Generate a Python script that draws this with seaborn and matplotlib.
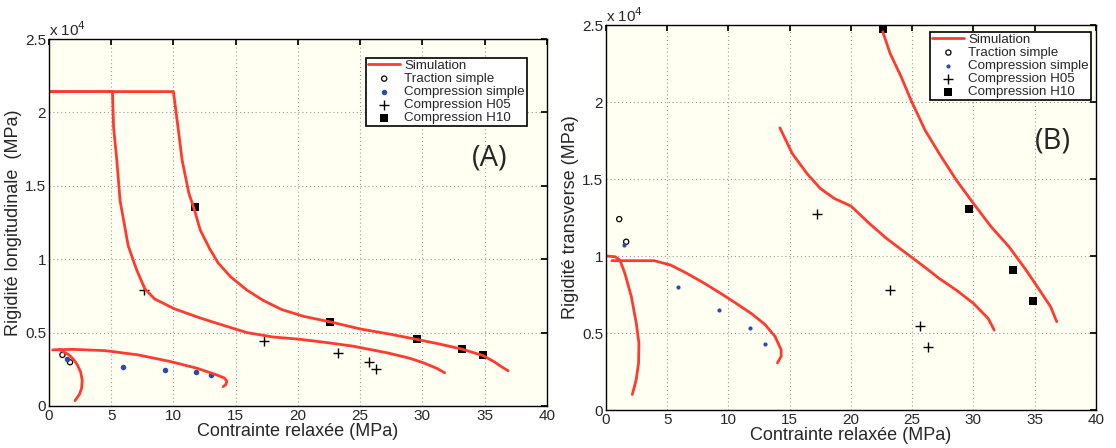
"""
Rigidité longitudinale (A) et transverse (B) vs contrainte relaxée.
"""

import matplotlib
matplotlib.use("Agg")
import matplotlib.pyplot as plt
import seaborn as sns
import numpy as np
import pandas as pd

RED = "#FF3B2F"
BLUE = "#2B4DA8"
BG = "#FFFFF2"

# ---------------- (A) longitudinale, valeurs en 1e4 MPa ----------------
a_sim_h10_x = [0.15, 10.0, 10.3, 10.7, 11.24, 11.71, 12.15, 12.94, 13.6, 14.6, 15.9, 17.2,
               18.7, 20.5, 22.6, 25.0, 27.5, 29.6, 31.5, 33.2, 34.9, 35.8, 36.5, 36.9]
a_sim_h10_y = [2.142, 2.142, 1.944, 1.674, 1.45, 1.33, 1.20, 1.067, 0.974, 0.88, 0.79, 0.72,
               0.657, 0.61, 0.573, 0.525, 0.488, 0.453, 0.42, 0.387, 0.343, 0.30, 0.26, 0.24]
a_sim_h05_x = [0.15, 5.1, 5.19, 5.45, 5.71, 6.37, 7.02, 7.69, 8.48, 10.05, 11.9, 13.05, 15.9,
               18.0, 20.1, 22.5, 24.4, 27.2, 29.0, 30.1, 31.2, 31.8]
a_sim_h05_y = [2.142, 2.142, 1.90, 1.675, 1.40, 1.09, 0.933, 0.80, 0.73, 0.663, 0.607, 0.575, 0.50,
               0.47, 0.455, 0.43, 0.408, 0.362, 0.325, 0.294, 0.255, 0.226]
a_sim_cs_x = [0.29, 1.88, 4.52, 7.17, 9.8, 11.9, 13.5, 14.1, 14.3, 14.2, 14.0]
a_sim_cs_y = [0.382, 0.386, 0.377, 0.348, 0.302, 0.257, 0.211, 0.19, 0.168, 0.145, 0.132]
a_sim_ts_x = [0.82, 1.61, 2.0, 2.28, 2.55, 2.67, 2.62, 2.45, 2.09]
a_sim_ts_y = [0.386, 0.348, 0.315, 0.280, 0.23, 0.175, 0.12, 0.08, 0.036]

a_ts_x = [1.08, 1.69]
a_ts_y = [0.348, 0.298]
a_cs_x = [1.48, 5.98, 9.29, 11.8, 13.04]
a_cs_y = [0.318, 0.264, 0.245, 0.23, 0.211]
a_h05_x = [7.66, 17.25, 23.2, 25.7, 26.3]
a_h05_y = [0.793, 0.446, 0.358, 0.299, 0.254]
a_h10_x = [11.7, 22.6, 29.6, 33.2, 34.9]
a_h10_y = [1.356, 0.573, 0.453, 0.387, 0.346]

# ---------------- (B) transverse ----------------
b_sim_h10_x = [22.6, 23.2, 24.1, 24.9, 26.05, 27.2, 28.6, 30.0, 31.45, 32.9, 34.3, 35.4, 36.3, 36.8]
b_sim_h10_y = [2.457, 2.316, 2.165, 2.013, 1.818, 1.667, 1.494, 1.342, 1.190, 1.061, 0.909, 0.779, 0.671, 0.574]
b_sim_h05_x = [14.2, 15.2, 16.4, 17.5, 18.65, 20.0, 21.5, 22.9, 24.35, 25.8, 27.2, 28.6, 30.0, 31.2, 31.7]
b_sim_h05_y = [1.833, 1.667, 1.537, 1.439, 1.374, 1.325, 1.212, 1.115, 1.028, 0.942, 0.855, 0.779, 0.693, 0.595, 0.519]
b_sim_cs_x = [0.48, 3.94, 5.27, 6.6, 7.93, 9.26, 10.6, 11.9, 13.0, 13.8, 14.3, 14.3, 14.0]
b_sim_cs_y = [0.970, 0.970, 0.942, 0.888, 0.828, 0.763, 0.694, 0.625, 0.554, 0.478, 0.392, 0.349, 0.306]
b_sim_ts_x = [0.08, 0.74, 1.14, 1.54, 2.07, 2.47, 2.69, 2.66, 2.47, 2.15]
b_sim_ts_y = [1.0, 0.996, 0.974, 0.888, 0.737, 0.565, 0.435, 0.306, 0.198, 0.101]

b_ts_x = [1.08, 1.65]
b_ts_y = [1.240, 1.093]
b_cs_x = [1.45, 5.92, 9.23, 11.73, 13.0]
b_cs_y = [1.069, 0.801, 0.647, 0.535, 0.426]
b_h05_x = [17.2, 23.15, 25.65, 26.3]
b_h05_y = [1.275, 0.781, 0.548, 0.407]
b_h10_x = [22.6, 29.6, 33.2, 34.85]
b_h10_y = [2.474, 1.307, 0.911, 0.708]

x_ticks = [0, 5, 10, 15, 20, 25, 30, 35, 40]
y_ticks = [0, 0.5, 1, 1.5, 2, 2.5]
y_tick_labels = ["0", "0.5", "1", "1.5", "2", "2.5"]

sns.set_theme(style="whitegrid")
plt.rcParams["font.family"] = ["Liberation Sans", "DejaVu Sans"]


def draw_panel(ax, sims, ts, cs, h05, h10, ylabel, tag, tag_xy, leg_anchor, dot_size):
    ax.set_facecolor(BG)
    for i, (sx, sy) in enumerate(sims):
        sns.lineplot(x=sx, y=sy, ax=ax, sort=False, estimator=None, color=RED,
                     linewidth=2, label="Simulation" if i == 0 else None)
    sns.scatterplot(x=ts[0], y=ts[1], ax=ax, marker="o", s=14, facecolor="none",
                    edgecolor="black", linewidth=0.9, label="Traction simple")
    sns.scatterplot(x=cs[0], y=cs[1], ax=ax, marker="o", s=dot_size, color=BLUE,
                    edgecolor=BLUE, linewidth=0, label="Compression simple")
    sns.scatterplot(x=h05[0], y=h05[1], ax=ax, marker="+", s=50, color="black",
                    linewidth=1, label="Compression H05")
    sns.scatterplot(x=h10[0], y=h10[1], ax=ax, marker="s", s=30, color="black",
                    edgecolor="black", linewidth=0, label="Compression H10")

    ax.set_xlim(0, 40)
    ax.set_ylim(0, 2.5)
    ax.set_xticks(x_ticks)
    ax.set_yticks(y_ticks)
    ax.set_yticklabels(y_tick_labels)
    ax.grid(True, color="#9a9a9a", linestyle=(0, (1, 2.5)), linewidth=0.8)
    ax.tick_params(direction="in", length=4, labelsize=11, pad=2,
                   top=True, right=True, color="black")
    for sp in ax.spines.values():
        sp.set_color("black")
        sp.set_linewidth(1)
    ax.set_xlabel("Contrainte relaxée (MPa)", fontsize=13, labelpad=0)
    ax.set_ylabel(ylabel, fontsize=13, labelpad=2)
    ax.text(0.0, 1.0, r"x 10$^4$", transform=ax.transAxes, ha="left",
            va="bottom", fontsize=11)
    ax.text(tag_xy[0], tag_xy[1], tag, fontsize=21, ha="center", va="center",
            family=["Open Sans", "DejaVu Sans"])

    leg = ax.legend(loc="upper right", bbox_to_anchor=leg_anchor, fontsize=9.6,
                    frameon=True, fancybox=False, framealpha=1,
                    edgecolor="black", handlelength=2.4, handletextpad=0.3,
                    borderpad=0.15, labelspacing=0.05, borderaxespad=0)
    leg.get_frame().set_linewidth(1.2)
    leg.get_frame().set_facecolor("white")


fig = plt.figure(figsize=(11.16, 4.48), dpi=100)
ax1 = fig.add_axes([0.0439, 0.0938, 0.446, 0.819])
ax2 = fig.add_axes([0.543, 0.0848, 0.439, 0.859])

draw_panel(
    ax1,
    [(a_sim_h10_x, a_sim_h10_y), (a_sim_h05_x, a_sim_h05_y),
     (a_sim_cs_x, a_sim_cs_y), (a_sim_ts_x, a_sim_ts_y)],
    (a_ts_x, a_ts_y), (a_cs_x, a_cs_y), (a_h05_x, a_h05_y), (a_h10_x, a_h10_y),
    "Rigidité longitudinale  (MPa)", "(A)", (35.4, 1.69), (0.96, 0.949), 16,
)
draw_panel(
    ax2,
    [(b_sim_h10_x, b_sim_h10_y), (b_sim_h05_x, b_sim_h05_y),
     (b_sim_cs_x, b_sim_cs_y), (b_sim_ts_x, b_sim_ts_y)],
    (b_ts_x, b_ts_y), (b_cs_x, b_cs_y), (b_h05_x, b_h05_y), (b_h10_x, b_h10_y),
    "Rigidité transverse (MPa)", "(B)", (36.5, 1.75), (0.99, 0.983), 9,
)

fig.savefig("out.png", dpi=100, facecolor="white")
